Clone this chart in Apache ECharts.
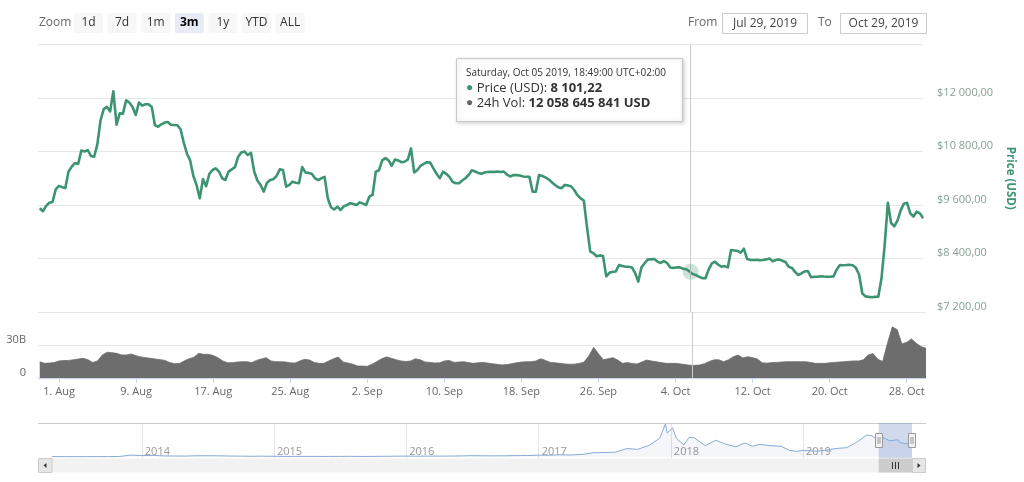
<!DOCTYPE html>
<html><head><meta charset="utf-8">
<script src="https://cdn.jsdelivr.net/npm/echarts@6/dist/echarts.min.js"></script>
<style>html,body{margin:0;padding:0;background:#fff}#c{width:1024px;height:482px}</style>
</head><body><div id="c"></div>
<script>
// ---------- DATA ----------
const seriesStart = '2019-07-30T00:00:00Z';
const priceStepHours = 8;
const priceValues = [
9526,9460,9580,9650,9670,9950,10030,10000,9980,10350,
10460,10540,10520,10820,10800,10830,10700,10683,10960,11500,
11750,11800,11700,12150,11400,11657,11650,11950,11900,11800,
11619,11900,11830,11860,11860,11800,11390,11356,11410,11450,
11460,11400,11394,11390,11300,11000,10750,10600,10250,10050,
9750,10180,10020,10300,10385,10423,10350,10200,10161,10350,
10400,10450,10683,10780,10800,10721,10770,10350,10150,10050,
9900,10100,10161,10180,10250,10400,10385,10010,10050,10123,
10100,10087,10450,10330,10320,10300,10200,10160,10200,10230,
9750,9550,9500,9562,9488,9570,9600,9640,9620,9600,
9660,9630,9600,9790,9830,10347,10380,10600,10650,10600,
10480,10620,10600,10560,10570,10620,10870,10330,10385,10480,
10520,10560,10550,10420,10300,10200,10347,10300,10230,10120,
10087,10087,10150,10200,10273,10380,10350,10320,10300,10330,
10340,10347,10340,10350,10340,10350,10280,10240,10273,10270,
10260,10240,10235,10230,9900,9898,10273,10250,10220,10176,
10110,10049,10000,9975,10049,10040,10020,9936,9820,9750,
9700,9100,8553,8520,8450,8470,8456,8000,8080,8104,
8110,8254,8230,8216,8216,8200,8080,7880,8200,8292,
8380,8380,8390,8330,8300,8340,8300,8200,8190,8200,
8200,8170,8158,8110,8050,8030,7990,7960,7956,8150,
8290,8328,8260,8216,8230,8200,8591,8580,8570,8530,
8620,8390,8370,8366,8370,8360,8366,8380,8400,8340,
8366,8380,8350,8320,8216,8190,8100,8030,8068,8110,
8120,7980,7990,7992,8000,7995,7992,7992,8000,8150,
8254,8250,8254,8260,8250,8190,8040,7620,7550,7540,
7530,7540,7543,7950,8703,9650,9200,9120,9250,9480,
9630,9650,9414,9340,9450,9414,9302
];
const volumeStepHours = 12;
const volumeBillions = [
14.8,13.3,13.6,14.0,15.5,15.8,16.0,16.6,17.2,17.9,
16.6,14.2,15.5,21.0,23.4,23.0,22.4,20.9,20.9,21.8,
20.2,19.2,18.5,17.9,17.2,16.7,16.0,14.0,13.0,13.2,
15.5,17.5,18.8,22.5,21.5,21.5,20.5,18.5,15.5,13.9,
13.9,14.5,14.8,14.8,14.0,16.0,17.3,18.5,15.5,14.8,
14.8,14.6,13.8,13.6,15.5,17.0,16.3,14.2,13.3,13.3,
15.5,17.5,19.0,14.5,13.6,12.5,10.9,10.8,10.6,12.5,
15.0,17.5,19.2,17.9,16.6,15.5,15.0,15.5,17.5,16.5,
14.6,14.2,13.6,13.8,15.5,16.0,14.2,14.5,14.8,14.0,
13.3,13.8,14.2,13.6,12.9,12.4,11.9,12.2,13.0,13.8,
14.5,14.8,14.8,15.5,17.5,16.0,14.2,13.8,13.3,12.8,
12.5,12.6,13.2,14.5,20.0,28.0,22.0,16.6,17.5,18.5,
16.3,13.3,14.0,13.2,12.7,14.5,16.3,15.5,14.8,14.0,
13.3,13.3,13.3,12.8,12.2,11.6,11.5,11.8,13.0,15.0,
16.5,16.5,14.8,16.5,19.4,20.8,18.2,19.4,18.5,17.2,
13.8,13.5,14.0,14.2,14.5,14.8,14.8,14.8,14.8,14.8,
14.2,13.3,13.3,13.3,13.8,14.2,14.5,14.8,15.2,15.5,
15.5,16.5,21.0,22.2,17.0,15.0,31.5,46.5,44.0,31.0,
32.5,35.5,31.5,28.5,27.0
];
const xTickDates = ['2019-08-01','2019-08-09','2019-08-17','2019-08-25','2019-09-02','2019-09-10','2019-09-18','2019-09-26','2019-10-04','2019-10-12','2019-10-20','2019-10-28'];
const xTickLabels = ['1. Aug','9. Aug','17. Aug','25. Aug','2. Sep','10. Sep','18. Sep','26. Sep','4. Oct','12. Oct','20. Oct','28. Oct'];
const priceTicks = [7200, 8400, 9600, 10800, 12000];
const priceTickLabels = ['$7 200,00','$8 400,00','$9 600,00','$10 800,00','$12 000,00'];
const volumeTicks = [0, 30];
const volumeTickLabels = ['0','30B'];
const navDates = ['2013-04-28','2013-06-01','2013-07-01','2013-08-01','2013-09-01','2013-10-01','2013-11-01','2013-12-01',
'2014-01-01','2014-02-01','2014-03-01','2014-04-01','2014-05-01','2014-06-01','2014-07-01','2014-08-01','2014-09-01','2014-10-01','2014-11-01','2014-12-01',
'2015-01-01','2015-02-01','2015-03-01','2015-04-01','2015-05-01','2015-06-01','2015-07-01','2015-08-01','2015-09-01','2015-10-01','2015-11-01','2015-12-01',
'2016-01-01','2016-02-01','2016-03-01','2016-04-01','2016-05-01','2016-06-01','2016-07-01','2016-08-01','2016-09-01','2016-10-01','2016-11-01','2016-12-01',
'2017-01-01','2017-02-01','2017-03-01','2017-04-01','2017-05-01','2017-06-01','2017-07-01','2017-08-01','2017-09-01','2017-10-01','2017-11-01','2017-12-01','2017-12-17','2017-12-22',
'2018-01-06','2018-01-16','2018-02-06','2018-02-20','2018-03-05','2018-04-06','2018-05-05','2018-06-01','2018-06-29','2018-07-25','2018-08-14','2018-09-04','2018-10-01','2018-11-01','2018-11-25','2018-12-15',
'2019-01-01','2019-02-07','2019-03-01','2019-04-02','2019-05-01','2019-05-30','2019-06-26','2019-07-10','2019-07-29','2019-08-06','2019-08-29','2019-09-20','2019-09-25','2019-10-25','2019-10-27','2019-10-29'];
const navValues = [135,120,90,100,140,130,200,1000,
750,850,560,470,450,630,640,590,475,385,325,380,
315,225,260,245,235,225,260,280,230,235,315,360,
435,370,435,415,450,535,675,610,575,615,730,750,
1000,980,1190,1080,1420,2400,2500,2720,4900,4400,6700,10900,19500,14000,
17200,11000,7000,11400,11500,6600,9800,7500,5900,8200,6200,7400,6600,6300,3800,3200,
3800,3400,3800,4900,5400,8700,12900,12500,9500,11800,9500,10100,8400,7500,9500,9300];
const navYearDates = ['2014-01-01','2015-01-01','2016-01-01','2017-01-01','2018-01-01','2019-01-01'];
const navYearLabels = ['2014','2015','2016','2017','2018','2019'];
const rangeButtons = ['1d','7d','1m','3m','1y','YTD','ALL'];
const selectedButton = '3m';
const fromLabel = 'From', toLabel = 'To';
const fromDate = 'Jul 29, 2019', toDate = 'Oct 29, 2019';
const selectionStart = '2019-07-29', selectionEnd = '2019-10-29';
const tooltipHeader = 'Saturday, Oct 05 2019, 18:49:00 UTC+02:00';
const tooltipTime = '2019-10-05T18:49:00Z';
const tooltipPrice = 8101.22;
const tooltipVolume = 12058645841;

// ---------- BUILD ----------
const HOUR = 3600 * 1000;
const t0 = Date.parse(seriesStart);
const priceData = priceValues.map((v, i) => [t0 + i * priceStepHours * HOUR, v]);
const volumeData = volumeBillions.map((v, i) => [t0 + i * volumeStepHours * HOUR, v]);
const toT = d => Date.parse(d.length === 10 ? d + 'T00:00:00Z' : d);
const xTickTimes = xTickDates.map(toT);
const navData = navDates.map((d, i) => [toT(d), navValues[i]]);
const navYearTimes = navYearDates.map(toT);
const crossT = toT(tooltipTime);
const X_MIN = Date.UTC(2019, 6, 29, 19, 40);
const X_MAX = Date.UTC(2019, 9, 30, 0, 0);

function fmtNum(n, dec) {
  const s = n.toFixed(dec);
  const parts = s.split('.');
  const int = parts[0].replace(/\B(?=(\d{3})+(?!\d))/g, ' ');
  return parts[1] ? int + ',' + parts[1] : int;
}
function nearestIdx(arr, v) {
  let best = -1, bd = Infinity;
  arr.forEach((a, i) => { const d = Math.abs(a - v); if (d < bd) { bd = d; best = i; } });
  return bd < 60000 ? best : -1;
}

const FONT = 'Open Sans';
const GREEN = '#3d9471';
const chart = echarts.init(document.getElementById('c'), null, {width: 1024, height: 482});

const option = {
  animation: false,
  backgroundColor: '#fff',
  textStyle: {fontFamily: FONT},
  grid: [
    {left: 38, right: 98, top: 44.5, height: 267.5},
    {left: 38, right: 98, top: 312, height: 66},
    {left: 52, right: 112, top: 423, height: 35}
  ],
  xAxis: [
    {type: 'value', gridIndex: 0, min: X_MIN, max: X_MAX, axisLine: {show: false}, axisTick: {show: false}, axisLabel: {show: false}, splitLine: {show: false}},
    {type: 'value', gridIndex: 1, min: X_MIN, max: X_MAX,
      axisLine: {show: true, onZero: false, lineStyle: {color: '#ccd6eb'}},
      axisTick: {show: true, customValues: xTickTimes, length: 5, lineStyle: {color: '#ccd6eb'}},
      axisLabel: {customValues: xTickTimes, color: '#666', fontSize: 11, margin: 8, fontFamily: FONT, showMinLabel: true, showMaxLabel: true,
        formatter: v => { const k = nearestIdx(xTickTimes, +v); return k >= 0 ? xTickLabels[k] : ''; }},
      splitLine: {show: false}},
    {type: 'value', gridIndex: 2, min: toT(navDates[0]), max: toT(navDates[navDates.length - 1]),
      axisLine: {show: false, onZero: false},
      axisTick: {show: false, customValues: navYearTimes},
      axisLabel: {customValues: navYearTimes, inside: true, color: '#999', fontSize: 11, margin: 1, align: 'left', padding: [0, 0, 0, 3], fontFamily: FONT,
        formatter: v => { const k = nearestIdx(navYearTimes, +v); return k >= 0 ? navYearLabels[k] : ''; }},
      splitLine: {show: true, lineStyle: {color: '#e6e6e6'}}}
  ],
  yAxis: [
    {type: 'value', gridIndex: 0, position: 'right', min: 7200, max: 13200, interval: 1200,
      axisLine: {show: false}, axisTick: {show: false},
      axisLabel: {color: '#86a193', fontSize: 11, margin: 14, verticalAlign: 'bottom', fontFamily: FONT,
        formatter: v => { const k = priceTicks.indexOf(v); return k >= 0 ? priceTickLabels[k] : ''; }},
      splitLine: {lineStyle: {color: '#e6e6e6'}},
      name: 'Price (USD)', nameLocation: 'middle', nameRotate: -90, nameGap: 80,
      nameTextStyle: {color: GREEN, fontWeight: 'bold', fontSize: 11.5, fontFamily: FONT}},
    {type: 'value', gridIndex: 1, position: 'left', min: 0, max: 60, interval: 30,
      axisLine: {show: false}, axisTick: {show: false},
      axisLabel: {color: '#666', fontSize: 11, margin: 12, verticalAlign: 'bottom', fontFamily: FONT,
        formatter: v => { const k = volumeTicks.indexOf(v); return k >= 0 ? volumeTickLabels[k] : ''; }},
      splitLine: {lineStyle: {color: '#e6e6e6'}}},
    {type: 'value', gridIndex: 2, min: -700, max: 20000, show: false, splitLine: {show: false}}
  ],
  series: [
    {name: 'Price (USD)', type: 'line', xAxisIndex: 0, yAxisIndex: 0, data: priceData, showSymbol: false, z: 3,
      lineStyle: {width: 2.6, color: GREEN, join: 'round'}, itemStyle: {color: GREEN},
      markLine: {silent: true, symbol: 'none', label: {show: false}, lineStyle: {color: '#cccccc', width: 1, type: 'solid'}, data: [{xAxis: crossT}]},
      markPoint: {silent: true, symbol: 'circle', symbolSize: 16, label: {show: false}, itemStyle: {color: 'rgba(61,148,113,0.25)'},
        data: [{coord: [crossT, tooltipPrice]}]}},
    {name: 'crosshair', type: 'line', xAxisIndex: 1, yAxisIndex: 1, data: [[crossT, 0]], showSymbol: false, z: 1,
      lineStyle: {opacity: 0},
      markLine: {silent: true, symbol: 'none', label: {show: false}, lineStyle: {color: '#cccccc', width: 1, type: 'solid'}, data: [{xAxis: crossT}]}},
    {name: '24h Vol', type: 'line', xAxisIndex: 1, yAxisIndex: 1, data: volumeData, showSymbol: false, z: 2,
      lineStyle: {width: 0.8, color: '#6d6d6d'}, areaStyle: {color: '#6d6d6d', opacity: 1}},
    {name: 'navigator', type: 'line', xAxisIndex: 2, yAxisIndex: 2, data: navData, showSymbol: false, z: 2,
      lineStyle: {width: 1, color: '#86aad8'}, areaStyle: {color: 'rgba(51,92,173,0.08)'},
      markArea: {silent: true, itemStyle: {color: 'rgba(102,133,194,0.3)'}, data: [[{xAxis: toT(selectionStart)}, {xAxis: toT(selectionEnd)}]]}}
  ]
};
chart.setOption(option);

// ---------- UI decorations ----------
const xs = chart.convertToPixel({xAxisIndex: 2}, toT(selectionStart));
const xe = chart.convertToPixel({xAxisIndex: 2}, toT(selectionEnd));
const g = [];
g.push({type: 'text', x: 39, y: 23, style: {text: 'Zoom', fill: '#666', fontSize: 12, fontFamily: FONT, verticalAlign: 'middle'}});
rangeButtons.forEach((b, i) => {
  const x = 74 + i * 33.6;
  const sel = b === selectedButton;
  g.push({type: 'rect', shape: {x: x, y: 13, width: 29, height: 20, r: 2}, style: {fill: sel ? '#e6ebf5' : '#f7f7f7'}});
  g.push({type: 'text', x: x + 14.5, y: 23, style: {text: b, fill: sel ? '#000' : '#333', fontSize: 12, fontWeight: sel ? 'bold' : 'normal', fontFamily: FONT, align: 'center', verticalAlign: 'middle'}});
});
g.push({type: 'text', x: 688, y: 23, style: {text: fromLabel, fill: '#666', fontSize: 12, fontFamily: FONT, verticalAlign: 'middle'}});
g.push({type: 'rect', shape: {x: 722.5, y: 13.5, width: 85, height: 20}, style: {fill: '#fff', stroke: '#cccccc', lineWidth: 1}});
g.push({type: 'text', x: 765, y: 23.5, style: {text: fromDate, fill: '#444', fontSize: 12, fontFamily: FONT, align: 'center', verticalAlign: 'middle'}});
g.push({type: 'text', x: 818, y: 23, style: {text: toLabel, fill: '#666', fontSize: 12, fontFamily: FONT, verticalAlign: 'middle'}});
g.push({type: 'rect', shape: {x: 840.5, y: 13.5, width: 86, height: 20}, style: {fill: '#fff', stroke: '#cccccc', lineWidth: 1}});
g.push({type: 'text', x: 883.5, y: 23.5, style: {text: toDate, fill: '#444', fontSize: 12, fontFamily: FONT, align: 'center', verticalAlign: 'middle'}});

// tooltip box
g.push({type: 'rect', z: 100, shape: {x: 456.5, y: 58.5, width: 226, height: 63}, style: {fill: 'rgba(255,255,255,0.97)', stroke: '#c8c8c8', lineWidth: 1, shadowBlur: 4, shadowColor: 'rgba(0,0,0,0.18)', shadowOffsetX: 1, shadowOffsetY: 1}});
g.push({type: 'text', z: 101, x: 466, y: 73, style: {text: tooltipHeader, fill: '#333', fontSize: 10, fontFamily: FONT, verticalAlign: 'middle'}});
g.push({type: 'text', z: 101, x: 466, y: 88, style: {text: '{g|●} Price (USD): {b|' + fmtNum(tooltipPrice, 2) + '}', fill: '#333', fontSize: 13, fontFamily: FONT, verticalAlign: 'middle',
  rich: {g: {fill: GREEN, fontSize: 12, fontFamily: FONT}, b: {fontWeight: 'bold', fill: '#333', fontSize: 13, fontFamily: FONT}}}});
g.push({type: 'text', z: 101, x: 466, y: 103, style: {text: '{g|●} 24h Vol: {b|' + fmtNum(tooltipVolume, 0) + ' USD}', fill: '#333', fontSize: 13, fontFamily: FONT, verticalAlign: 'middle',
  rich: {g: {fill: '#666', fontSize: 12, fontFamily: FONT}, b: {fontWeight: 'bold', fill: '#333', fontSize: 13, fontFamily: FONT}}}});

// navigator outline
g.push({type: 'line', shape: {x1: 38, y1: 423.5, x2: 926, y2: 423.5}, style: {stroke: '#cccccc', lineWidth: 1}});
// scrollbar
g.push({type: 'rect', shape: {x: 38, y: 458.5, width: 888, height: 14}, style: {fill: '#f2f2f2'}});
g.push({type: 'rect', shape: {x: 38.5, y: 458.5, width: 13.5, height: 14}, style: {fill: '#e6e6e6', stroke: '#cccccc', lineWidth: 1}});
g.push({type: 'polygon', shape: {points: [[46.5, 463], [46.5, 468], [43.5, 465.5]]}, style: {fill: '#333'}});
g.push({type: 'rect', shape: {x: xe + 0.5, y: 458.5, width: 926 - xe - 1, height: 14}, style: {fill: '#e6e6e6', stroke: '#cccccc', lineWidth: 1}});
g.push({type: 'polygon', shape: {points: [[xe + 5.5, 463], [xe + 5.5, 468], [xe + 8.5, 465.5]]}, style: {fill: '#333'}});
g.push({type: 'rect', shape: {x: xs, y: 458.5, width: xe - xs, height: 14}, style: {fill: '#cccccc'}});
const cx = Math.round((xs + xe) / 2);
[-3, 0, 3].forEach(d => g.push({type: 'line', shape: {x1: cx + d + 0.5, y1: 462, x2: cx + d + 0.5, y2: 469}, style: {stroke: '#333', lineWidth: 1}}));
// handles
[xs, xe].forEach(x => {
  const hx = Math.round(x) - 3.5;
  g.push({type: 'rect', z: 50, shape: {x: hx, y: 433.5, width: 7, height: 14}, style: {fill: '#f2f2f2', stroke: '#999999', lineWidth: 1}});
  g.push({type: 'line', z: 51, shape: {x1: hx + 2.5, y1: 437, x2: hx + 2.5, y2: 444}, style: {stroke: '#999999', lineWidth: 1}});
  g.push({type: 'line', z: 51, shape: {x1: hx + 4.5, y1: 437, x2: hx + 4.5, y2: 444}, style: {stroke: '#999999', lineWidth: 1}});
});
chart.setOption({graphic: g});
</script>
</body></html>
